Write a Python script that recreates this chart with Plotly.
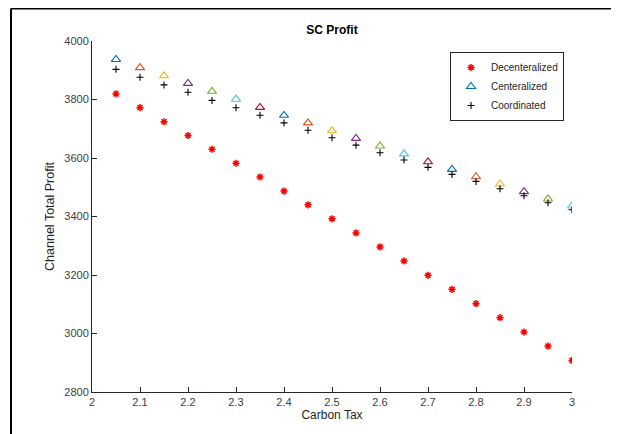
import plotly.graph_objects as go

carbon_tax = [2.05, 2.10, 2.15, 2.20, 2.25, 2.30, 2.35, 2.40, 2.45, 2.50,
              2.55, 2.60, 2.65, 2.70, 2.75, 2.80, 2.85, 2.90, 2.95, 3.00]

decentralized = [3819, 3772, 3724, 3677, 3630, 3582, 3535, 3487, 3440, 3392,
                 3344, 3296, 3248, 3199, 3151, 3102, 3054, 3005, 2957, 2908]

centralized = [3937, 3909, 3881, 3855, 3828, 3801, 3773, 3746, 3720, 3693,
               3667, 3641, 3614, 3587, 3561, 3536, 3511, 3485, 3460, 3436]

coordinated = [3903, 3876, 3850, 3825, 3797, 3772, 3746, 3720, 3695, 3669,
               3644, 3618, 3593, 3568, 3544, 3520, 3495, 3471, 3447, 3423]

series_names = ["Decenteralized", "Centeralized", "Coordinated"]
title_text = "SC Profit"
x_label = "Carbon Tax"
y_label = "Channel Total Profit"
x_ticks = [2, 2.1, 2.2, 2.3, 2.4, 2.5, 2.6, 2.7, 2.8, 2.9, 3]
x_tick_text = ["2", "2.1", "2.2", "2.3", "2.4", "2.5", "2.6", "2.7", "2.8", "2.9", "3"]
y_ticks = [2800, 3000, 3200, 3400, 3600, 3800, 4000]

matlab_cycle = ["#0072BD", "#D95319", "#EDB120", "#7E2F8E", "#77AC30", "#4DBEEE", "#A2142F"]
tri_colors = [matlab_cycle[i % len(matlab_cycle)] for i in range(len(carbon_tax))]

font_family = "Liberation Sans, Arial, Helvetica, sans-serif"
axis_color = "#262626"

fig = go.Figure()
fig.add_trace(go.Scatter(
    x=carbon_tax, y=decentralized, mode="markers", name=series_names[0],
    marker=dict(symbol="asterisk-open", size=6, color="#FF0000",
                line=dict(color="#FF0000", width=1.5)),
))
fig.add_trace(go.Scatter(
    x=carbon_tax, y=centralized, mode="markers", name=series_names[1],
    marker=dict(symbol="triangle-up-open", size=8, color=tri_colors,
                line=dict(color=tri_colors, width=1.1)),
))
fig.add_trace(go.Scatter(
    x=carbon_tax, y=coordinated, mode="markers", name=series_names[2],
    marker=dict(symbol="cross-thin-open", size=5, color="#000000",
                line=dict(color="#000000", width=1.1)),
))

# page body has an 8px margin, so the figure is shifted by 8px
OFF = 8
W, H = 619 - OFF, 434 - OFF
L, T = 92 - OFF, 41 - OFF
R = W - (572 - OFF)
B = H - (392 - OFF)
pw, ph = W - L - R, H - T - B

def px_x(page_x):
    return (page_x - OFF - L) / pw

def px_y(page_y):
    return 1 - (page_y - OFF - T) / ph

fig.update_layout(
    width=W, height=H,
    margin=dict(l=L, r=R, t=T, b=B),
    paper_bgcolor="white", plot_bgcolor="white",
    font=dict(family=font_family, size=11, color=axis_color),
    title=dict(text="<b>" + title_text + "</b>", x=(L + pw / 2) / W, xanchor="center",
               y=1 - (30 - OFF) / H, yanchor="middle", font=dict(size=12, color="#000000")),
    showlegend=True,
    legend=dict(x=px_x(450), y=px_y(52), xanchor="left", yanchor="top",
                bordercolor="#262626", borderwidth=1, bgcolor="white",
                font=dict(size=10, color="#262626"), tracegroupgap=0,
                itemwidth=30),
    xaxis=dict(range=[2, 3], tickvals=x_ticks, ticktext=x_tick_text,
               showline=True, linecolor=axis_color, linewidth=1, mirror=False,
               ticks="inside", ticklen=5, tickcolor=axis_color, showgrid=False,
               zeroline=False, tickfont=dict(size=11, color="#404040"),
               title=dict(text=x_label, font=dict(size=12, color="#262626"), standoff=3)),
    yaxis=dict(range=[2800, 4000], tickvals=y_ticks,
               showline=True, linecolor=axis_color, linewidth=1, mirror=False,
               ticks="inside", ticklen=5, tickcolor=axis_color, showgrid=False,
               zeroline=False, tickfont=dict(size=11, color="#404040"),
               title=dict(text=y_label, font=dict(size=12.5, color="#262626"), standoff=6)),
)

# screenshot frame (left and top borders)
fx = px_x(11)
fy = px_y(8.5)
fig.add_shape(type="line", xref="paper", yref="paper", x0=fx, y0=fy, x1=px_x(640), y1=fy,
              line=dict(color="#000000", width=2))
fig.add_shape(type="line", xref="paper", yref="paper", x0=fx, y0=fy, x1=fx, y1=px_y(450),
              line=dict(color="#000000", width=2))

fig.write_html("out.html")
